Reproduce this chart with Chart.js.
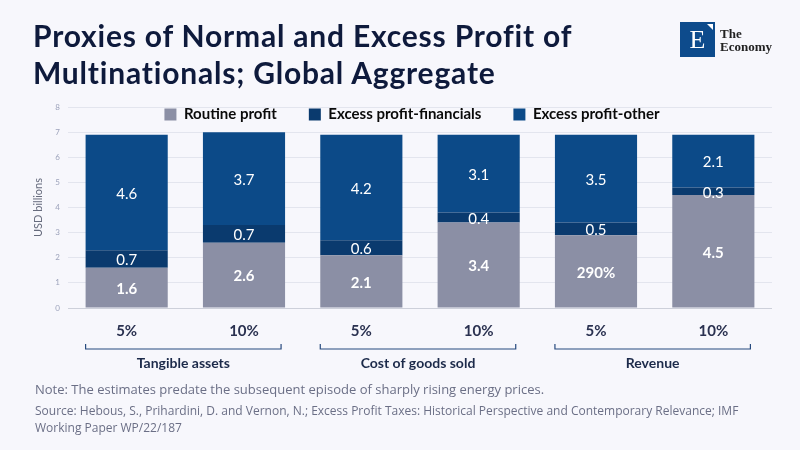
<!DOCTYPE html>
<html>
<head>
<meta charset="utf-8">
<script src="https://cdn.jsdelivr.net/npm/chart.js@4.4.0/dist/chart.umd.min.js"></script>
<style>
  body { margin: 0; background: #f7f7fc; }
  #wrap { position: relative; width: 800px; height: 450px; overflow: hidden; background: #f7f7fc; font-family: Lato, sans-serif; }
  #chart { position: absolute; left: 0; top: 0; }
  h1 { position: absolute; left: 33px; top: 17px; margin: 0; font: bold 30px/37px Lato, sans-serif; letter-spacing: 0.8px; color: #0e1a3c; }
  .logo { position: absolute; left: 680px; top: 22px; width: 35px; height: 35px; background: #0d4b8c; color: #fff; font: 26px/35px "Liberation Serif", serif; text-align: center; }
  .logo:after { content: ""; position: absolute; right: 2px; top: 2px; border-left: 6px solid transparent; border-top: 6px solid #fff; }
  .brand { position: absolute; left: 720px; top: 27px; font: bold 13px/13px "Liberation Serif", serif; color: #222; }
  .note { position: absolute; left: 35px; top: 380px; font: 13px/18px "Open Sans", sans-serif; color: #6b6f86; }
  .source { position: absolute; left: 35px; top: 402px; font: 12px/17px "Open Sans", sans-serif; color: #6b6f86; }
</style>
</head>
<body>
<div id="wrap">
  <canvas id="chart" width="800" height="450"></canvas>
  <h1>Proxies of Normal and Excess Profit of<br>Multinationals; Global Aggregate</h1>
  <div class="logo">E</div>
  <div class="brand">The<br>Economy</div>
  <div class="note">Note: The estimates predate the subsequent episode of sharply rising energy prices.</div>
  <div class="source">Source: Hebous, S., Prihardini, D. and Vernon, N.; Excess Profit Taxes: Historical Perspective and Contemporary Relevance; IMF<br>Working Paper WP/22/187</div>
</div>
<script>
const categories = ['5%', '10%', '5%', '10%', '5%', '10%'];
const groups = ['Tangible assets', 'Cost of goods sold', 'Revenue'];
const routineProfit = [1.6, 2.6, 2.1, 3.4, 2.9, 4.5];
const routineLabels = ['1.6', '2.6', '2.1', '3.4', '290%', '4.5'];
const excessFinancials = [0.7, 0.7, 0.6, 0.4, 0.5, 0.3];
const excessOther = [4.6, 3.7, 4.2, 3.1, 3.5, 2.1];

// valores dentro de cada segmento
const segmentLabels = {
  id: 'segmentLabels',
  afterDatasetsDraw(chart) {
    const ctx = chart.ctx;
    ctx.save();
    ctx.fillStyle = '#ffffff';
    ctx.textAlign = 'center';
    ctx.textBaseline = 'middle';
    chart.data.datasets.forEach((ds, i) => {
      ctx.font = (i === 0 ? 'bold ' : '') + '15px Lato, sans-serif';
      chart.getDatasetMeta(i).data.forEach((bar, j) => {
        const p = bar.getProps(['x', 'y', 'base'], true);
        ctx.fillText(ds.valueLabels[j], p.x, (p.y + p.base) / 2 + 1.5);
      });
    });
    ctx.restore();
  }
};

// leyenda sobre el área del gráfico, corchetes y grupos bajo el eje x
const groupBrackets = {
  id: 'groupBrackets',
  beforeDraw(chart) {
    const lg = chart.legend;
    if (!lg) return;
    const h = lg.bottom - lg.top;
    lg.top = chart.chartArea.top - 32;
    lg.bottom = lg.top + h;
    lg.left = 12;
    lg.right = chart.width + 12;
  },
  afterDraw(chart) {
    const ctx = chart.ctx;
    const x = chart.scales.x;
    const bars = chart.getDatasetMeta(0).data;
    const yLine = chart.chartArea.bottom + 41;
    ctx.save();
    ctx.strokeStyle = '#274a7e';
    ctx.lineWidth = 1.2;
    ctx.fillStyle = '#1c2a4a';
    ctx.font = 'bold 14px Lato, sans-serif';
    ctx.textAlign = 'center';
    ctx.textBaseline = 'middle';
    groups.forEach((g, k) => {
      const left = x.getPixelForValue(2 * k) - bars[2 * k].width / 2;
      const right = x.getPixelForValue(2 * k + 1) + bars[2 * k + 1].width / 2 - 4;
      ctx.beginPath();
      ctx.moveTo(left, yLine - 5);
      ctx.lineTo(left, yLine);
      ctx.lineTo(right, yLine);
      ctx.lineTo(right, yLine - 5);
      ctx.stroke();
      ctx.fillText(g, (left + right) / 2, yLine + 14);
    });
    ctx.restore();
  }
};

new Chart(document.getElementById('chart'), {
  type: 'bar',
  data: {
    labels: categories,
    datasets: [
      { label: 'Routine profit', data: routineProfit, valueLabels: routineLabels, backgroundColor: '#8b8fa5' },
      { label: 'Excess profit-financials', data: excessFinancials, valueLabels: excessFinancials.map(String), backgroundColor: '#0a3a6e' },
      { label: 'Excess profit-other', data: excessOther, valueLabels: excessOther.map(String), backgroundColor: '#0c4a88' }
    ]
  },
  options: {
    responsive: false,
    animation: false,
    layout: { padding: { top: 50, left: 28, right: 28, bottom: 110 } },
    datasets: { bar: { barPercentage: 0.7, categoryPercentage: 1.0 } },
    plugins: {
      tooltip: { enabled: false },
      legend: {
        position: 'top',
        align: 'center',
        labels: {
          boxWidth: 12,
          boxHeight: 12,
          padding: 32,
          color: '#0a0a0a',
          font: { family: 'Lato, sans-serif', size: 15, weight: 'bold' }
        }
      }
    },
    scales: {
      x: {
        stacked: true,
        grid: { display: false, drawTicks: false },
        border: { display: false },
        ticks: { color: '#2a3150', padding: 14, font: { family: 'Lato, sans-serif', size: 15, weight: 'bold' } },
        afterFit(scale) { scale.height = 32; }
      },
      y: {
        stacked: true,
        min: 0,
        max: 8,
        ticks: { stepSize: 1, padding: 8, color: '#9da3bb', font: { family: 'Lato, sans-serif', size: 8 } },
        grid: { drawTicks: false, color: (c) => c.tick && c.tick.value === 0 ? '#cdd0da' : '#e3e5ee' },
        border: { display: false },
        title: { display: true, text: 'USD billions', color: '#666b7d', padding: 4, font: { family: 'Lato, sans-serif', size: 11 } },
        afterFit(scale) { scale.width = 40; }
      }
    }
  },
  plugins: [segmentLabels, groupBrackets]
});
</script>
</body>
</html>
